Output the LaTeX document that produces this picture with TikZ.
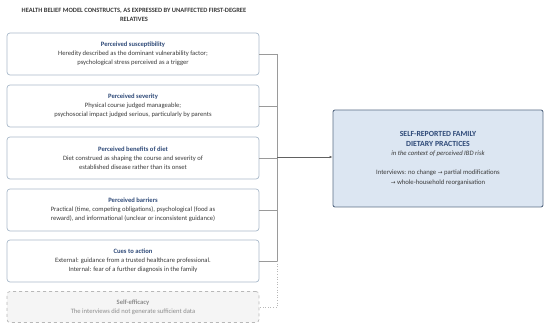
\documentclass[tikz,border=0pt]{standalone}
\usepackage{fontspec}
\setmainfont{Carlito}
\newfontfamily\arrowfont{DejaVu Sans}
\usepackage{tikz}
\usetikzlibrary{positioning, calc, arrows.meta}

\definecolor{hbmtitle}{HTML}{2F4A78}
\definecolor{hbmtext}{HTML}{3A3A3A}
\definecolor{hbmedge}{HTML}{A9B9CA}
\definecolor{hbmline}{HTML}{9A9A9A}
\definecolor{hbmfill}{HTML}{DCE6F2}
\definecolor{hbmdark}{HTML}{5C6E86}
\definecolor{hbmgrey}{HTML}{8C8C8C}

\newcommand{\hbmto}{{\arrowfont\fontsize{5.6}{9}\selectfont →}}

\begin{document}
\begin{tikzpicture}[
x=1pt, y=-1pt,
    construct/.style={rectangle, draw=hbmedge, line width=0.7pt, rounded corners=3pt, minimum width=252pt, minimum height=42pt, align=center, text=hbmtext, font=\fontsize{6.6}{9}\selectfont},
    missing/.style={construct, draw=hbmline!70, dashed, fill=black!4, minimum height=31pt, text=hbmgrey},
    outcome/.style={rectangle, draw=hbmdark, line width=0.9pt, fill=hbmfill, rounded corners=2pt, minimum width=210pt, minimum height=97pt, align=center, text=hbmtext, font=\fontsize{6.7}{9.6}\selectfont},
    link/.style={draw=hbmline, line width=0.6pt},
    gap/.style={link, draw=hbmline!70, dotted},
    arr/.style={draw=hbmtext!80, line width=0.7pt, -{Latex[length=3pt,width=2.6pt]}}
]
    \useasboundingbox (0,0) rectangle (550,328);

    % Heading
    \node[align=center, text=hbmtext, font=\fontsize{6.5}{9}\selectfont\bfseries] (head) at (134,15)
        {HEALTH BELIEF MODEL CONSTRUCTS, AS EXPRESSED BY UNAFFECTED FIRST-DEGREE\\RELATIVES};

    % Constructs
    \node[construct] (sus) at (133,54) {\textcolor{hbmtitle}{\bfseries Perceived susceptibility}\\
        Heredity described as the dominant vulnerability factor;\\
        psychological stress perceived as a trigger};
    \node[construct] (sev) at (133,106) {\textcolor{hbmtitle}{\bfseries Perceived severity}\\
        Physical course judged manageable;\\
        psychosocial impact judged serious, particularly by parents};
    \node[construct] (ben) at (133,158) {\textcolor{hbmtitle}{\bfseries Perceived benefits of diet}\\
        Diet construed as shaping the course and severity of\\
        established disease rather than its onset};
    \node[construct] (bar) at (133,210) {\textcolor{hbmtitle}{\bfseries Perceived barriers}\\
        Practical (time, competing obligations), psychological (food as\\
        reward), and informational (unclear or inconsistent guidance)};
    \node[construct] (cue) at (133,261) {\textcolor{hbmtitle}{\bfseries Cues to action}\\
        External: guidance from a trusted healthcare professional.\\
        Internal: fear of a further diagnosis in the family};
    \node[missing] (eff) at (133,307) {\bfseries Self-efficacy\\
        The interviews did not generate sufficient data};

    % Outcome
    \node[outcome] (out) at (438,158.5) {\textcolor{hbmtitle}{\bfseries\fontsize{7.8}{10.5}\selectfont SELF-REPORTED FAMILY}\\
        \textcolor{hbmtitle}{\bfseries\fontsize{7.8}{10.5}\selectfont DIETARY PRACTICES}\\
        \textit{in the context of perceived IBD risk}\\[9pt]
        Interviews: no change \hbmto{} partial modifications\\
        \hbmto{} whole-household reorganisation};

    % Trunk
    \coordinate (trunk) at (277,157);
    \draw[link] (sus) -- (sus -| trunk);
    \draw[link] (sev) -- (sev -| trunk);
    \draw[link] (ben) -- (ben -| trunk);
    \draw[link] (bar) -- (bar -| trunk);
    \draw[link] (cue) -- (cue -| trunk);
    \draw[link] (sus -| trunk) -- (cue -| trunk);
    \draw[gap] (cue -| trunk) -- (eff -| trunk) -- (eff);
    \draw[arr] (trunk) -- (trunk -| out.west);

\end{tikzpicture}
\end{document}
